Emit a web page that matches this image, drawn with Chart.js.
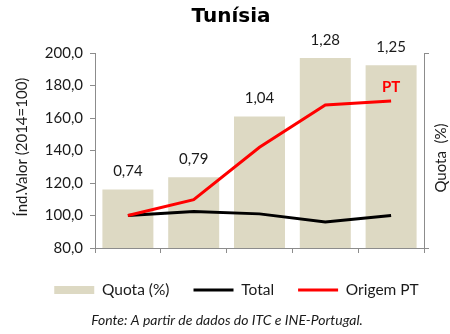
<!DOCTYPE html>
<html>
<head>
<meta charset="utf-8">
<script src="https://cdn.jsdelivr.net/npm/chart.js@4.4.1/dist/chart.umd.min.js"></script>
<style>
  html, body { margin: 0; padding: 0; background: #fff; }
  #wrap { width: 450px; height: 334px; }
</style>
</head>
<body>
<div id="wrap"><canvas id="tunisia"></canvas></div>
<script>
const years = ['2014', '2015', '2016', '2017', '2018'];
const quota = [0.74, 0.79, 1.04, 1.28, 1.25];
const total = [100, 102.4, 101, 96, 100];
const origemPT = [100, 109.7, 142, 168, 170.5];

const FONT = 'Lato, Calibri, sans-serif';
const AXIS = '#8c8c8c';
const fmt = (v, d) => v.toFixed(d).replace('.', ',');

// extra text: title, axis titles, bar values, PT tag, source line
const annotations = {
  id: 'annotations',
  afterLayout(chart) {
    // push the legend row right, under the plot
    chart.legend.left += 23;
  },
  afterDatasetsDraw(chart) {
    const { ctx } = chart;
    ctx.save();
    ctx.textAlign = 'center';
    ctx.textBaseline = 'middle';

    ctx.fillStyle = '#1a1a1a';
    ctx.font = '15px ' + FONT;
    chart.getDatasetMeta(0).data.forEach((bar, i) => {
      ctx.fillText(fmt(quota[i], 2), bar.x, bar.y - 18);
    });

    const pts = chart.getDatasetMeta(2).data;
    const last = pts[pts.length - 1];
    ctx.fillStyle = '#ff0000';
    ctx.font = 'bold 15px ' + FONT;
    ctx.fillText('PT', last.x, last.y - 14);
    ctx.restore();
  },
  afterDraw(chart) {
    const { ctx } = chart;
    ctx.save();
    ctx.textAlign = 'center';
    ctx.textBaseline = 'middle';
    ctx.fillStyle = '#000';

    ctx.font = 'bold 20px "DejaVu Sans", Verdana, sans-serif';
    ctx.fillText('Tunísia', 231, 17);

    ctx.fillStyle = '#1a1a1a';
    ctx.font = 'italic 14px ' + FONT;
    ctx.fillText('Fonte: A partir de dados do ITC e INE-Portugal.', 227, 320);

    ctx.font = '15px ' + FONT;
    ctx.translate(22, 147);
    ctx.rotate(-Math.PI / 2);
    ctx.fillText('Índ.Valor (2014=100)', 0, 0);
    ctx.restore();

    ctx.save();
    ctx.textAlign = 'center';
    ctx.textBaseline = 'middle';
    ctx.fillStyle = '#1a1a1a';
    ctx.font = '15px ' + FONT;
    ctx.translate(441, 158);
    ctx.rotate(-Math.PI / 2);
    ctx.fillText('Quota  (%)', 0, 0);
    ctx.restore();
  }
};

new Chart(document.getElementById('tunisia'), {
  data: {
    labels: years,
    datasets: [{
      type: 'bar',
      label: 'Quota (%)',
      data: quota,
      yAxisID: 'y1',
      backgroundColor: '#ddd9c3',
      borderWidth: 0,
      barPercentage: 0.775,
      categoryPercentage: 1,
      pointStyle: 'rect',
      order: 2
    }, {
      type: 'line',
      label: 'Total',
      data: total,
      yAxisID: 'y',
      borderColor: '#000',
      borderWidth: 3,
      tension: 0,
      pointRadius: 0,
      pointStyle: 'line',
      pointBorderColor: '#000',
      pointBorderWidth: 3,
      order: 1
    }, {
      type: 'line',
      label: 'Origem PT',
      data: origemPT,
      yAxisID: 'y',
      borderColor: '#ff0000',
      borderWidth: 3,
      tension: 0,
      pointRadius: 0,
      pointStyle: 'line',
      pointBorderColor: '#ff0000',
      pointBorderWidth: 3,
      order: 0
    }]
  },
  options: {
    responsive: true,
    maintainAspectRatio: false,
    animation: false,
    layout: { padding: { top: 53, bottom: 26.25, left: 0, right: 0 } },
    plugins: {
      title: { display: false },
      tooltip: { enabled: false },
      legend: {
        position: 'bottom',
        labels: {
          usePointStyle: true,
          pointStyleWidth: 40,
          boxHeight: 8,
          padding: 24,
          color: '#1a1a1a',
          font: { family: FONT, size: 15.5 },
          sort: (a, b) => a.datasetIndex - b.datasetIndex
        }
      }
    },
    scales: {
      x: {
        grid: { drawOnChartArea: false, tickLength: 5, color: AXIS },
        border: { color: AXIS },
        ticks: { color: '#1a1a1a', padding: 9, font: { family: FONT, size: 15 } },
        afterFit: s => { s.height = 10.25; }
      },
      y: {
        position: 'left',
        min: 80,
        max: 200,
        grid: { drawOnChartArea: false, tickLength: 5, color: AXIS },
        border: { color: AXIS },
        ticks: {
          stepSize: 20,
          padding: 7,
          color: '#1a1a1a',
          font: { family: FONT, size: 15 },
          callback: v => fmt(v, 1)
        },
        afterFit: s => { s.width = 95; }
      },
      y1: {
        position: 'right',
        min: 0.5,
        max: 1.3,
        grid: { drawOnChartArea: false, tickLength: 5, color: AXIS },
        border: { color: AXIS },
        ticks: { display: false },
        afterBuildTicks: s => { s.ticks = [{ value: 0.5 }, { value: 1.3 }]; },
        afterFit: s => { s.width = 26; }
      }
    }
  },
  plugins: [annotations]
});
</script>
</body>
</html>
